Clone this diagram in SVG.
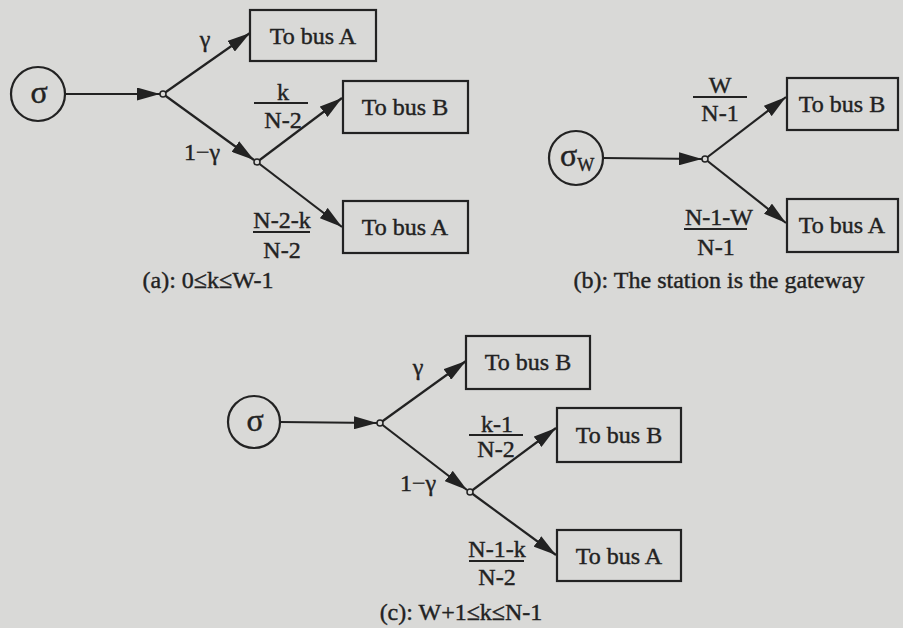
<svg xmlns="http://www.w3.org/2000/svg" width="903" height="628" viewBox="0 0 903 628">
<defs>
<marker id="ah" markerUnits="userSpaceOnUse" markerWidth="23" markerHeight="13" refX="23" refY="6.5" orient="auto">
<path d="M0,0 L23,6.5 L0,13 Z" fill="#222"/>
</marker>
<style>
.ar{stroke:#222;stroke-width:2.2;fill:none;marker-end:url(#ah)}
.bx{fill:none;stroke:#222;stroke-width:2.2}
.src{fill:none;stroke:#222;stroke-width:2.2}
.jn{fill:#d9d9d7;stroke:#222;stroke-width:1.5}
text{font-family:"Liberation Serif","Times New Roman",serif;font-size:24px;fill:#222;stroke:#222;stroke-width:0.4}
.m{text-anchor:middle}
.sig{font-size:32px}
.sub{font-size:18px}
.fl{stroke:#222;stroke-width:1.8}
</style>
</defs>
<rect width="903" height="628" fill="#d9d9d7"/>

<g id="connectors">
<line class="ar" x1="65" y1="94" x2="160" y2="94"/>
<line class="ar" x1="163" y1="94" x2="250" y2="33"/>
<line class="ar" x1="163" y1="94" x2="254" y2="160"/>
<line class="ar" x1="257" y1="162" x2="342" y2="98"/>
<line class="ar" x1="257" y1="162" x2="342" y2="227"/>
<line class="ar" x1="603" y1="158" x2="702" y2="159"/>
<line class="ar" x1="705" y1="159" x2="786" y2="97"/>
<line class="ar" x1="705" y1="159" x2="786" y2="223"/>
<line class="ar" x1="280" y1="422" x2="377" y2="423"/>
<line class="ar" x1="380" y1="423" x2="466" y2="361"/>
<line class="ar" x1="380" y1="423" x2="467" y2="490"/>
<line class="ar" x1="470" y1="492" x2="556" y2="428"/>
<line class="ar" x1="470" y1="492" x2="556" y2="555"/>
</g>

<g id="a-src"><circle class="src" cx="38" cy="94" r="27"/><text class="m sig" x="39" y="103">σ</text></g>
<g id="a-j1"><circle class="jn" cx="163" cy="94" r="3"/></g>
<g id="a-j2"><circle class="jn" cx="257" cy="162" r="3"/></g>
<g id="a-busA1"><rect class="bx" x="250" y="10" width="126" height="51"/><text class="m" x="313" y="44">To bus A</text></g>
<g id="a-busB"><rect class="bx" x="343" y="81" width="125" height="52"/><text class="m" x="405" y="115">To bus B</text></g>
<g id="a-busA2"><rect class="bx" x="343" y="201" width="125" height="52"/><text class="m" x="405" y="235">To bus A</text></g>
<g id="a-labels">
<text class="m" x="205" y="47">γ</text>
<text class="m" x="202" y="160">1−γ</text>
<text class="m" x="283" y="100">k</text>
<line class="fl" x1="254" y1="103" x2="308" y2="103"/>
<text class="m" x="283" y="128">N-2</text>
<text class="m" x="282" y="228">N-2-k</text>
<line class="fl" x1="253" y1="232" x2="310" y2="232"/>
<text class="m" x="282" y="258">N-2</text>
<text class="m" x="208" y="288">(a): 0≤k≤W-1</text>
</g>

<g id="b-src"><circle class="src" cx="576" cy="158" r="27"/><text x="560" y="166"><tspan class="sig">σ</tspan><tspan class="sub" dy="5">W</tspan></text></g>
<g id="b-j"><circle class="jn" cx="705" cy="159" r="3"/></g>
<g id="b-busB"><rect class="bx" x="787" y="78" width="111" height="52"/><text class="m" x="842" y="112">To bus B</text></g>
<g id="b-busA"><rect class="bx" x="787" y="199" width="111" height="53"/><text class="m" x="842" y="233">To bus A</text></g>
<g id="b-labels">
<text class="m" x="720" y="93">W</text>
<line class="fl" x1="693" y1="97" x2="747" y2="97"/>
<text class="m" x="720" y="121">N-1</text>
<text class="m" x="719" y="225">N-1-W</text>
<line class="fl" x1="684" y1="229" x2="747" y2="229"/>
<text class="m" x="716" y="255">N-1</text>
<text class="m" x="719" y="288">(b): The station is the gateway</text>
</g>

<g id="c-src"><circle class="src" cx="254" cy="422" r="26"/><text class="m sig" x="255" y="431">σ</text></g>
<g id="c-j1"><circle class="jn" cx="380" cy="423" r="3"/></g>
<g id="c-j2"><circle class="jn" cx="470" cy="492" r="3"/></g>
<g id="c-busB1"><rect class="bx" x="466" y="336" width="124" height="53"/><text class="m" x="528" y="370">To bus B</text></g>
<g id="c-busB2"><rect class="bx" x="557" y="408" width="124" height="54"/><text class="m" x="619" y="443">To bus B</text></g>
<g id="c-busA"><rect class="bx" x="557" y="530" width="124" height="51"/><text class="m" x="619" y="564">To bus A</text></g>
<g id="c-labels">
<text class="m" x="418" y="375">γ</text>
<text class="m" x="418" y="491">1−γ</text>
<text class="m" x="497" y="432">k-1</text>
<line class="fl" x1="469" y1="435" x2="523" y2="435"/>
<text class="m" x="496" y="457">N-2</text>
<text class="m" x="497" y="557">N-1-k</text>
<line class="fl" x1="469" y1="561" x2="524" y2="561"/>
<text class="m" x="497" y="585">N-2</text>
<text class="m" x="461" y="620">(c): W+1≤k≤N-1</text>
</g>
</svg>
